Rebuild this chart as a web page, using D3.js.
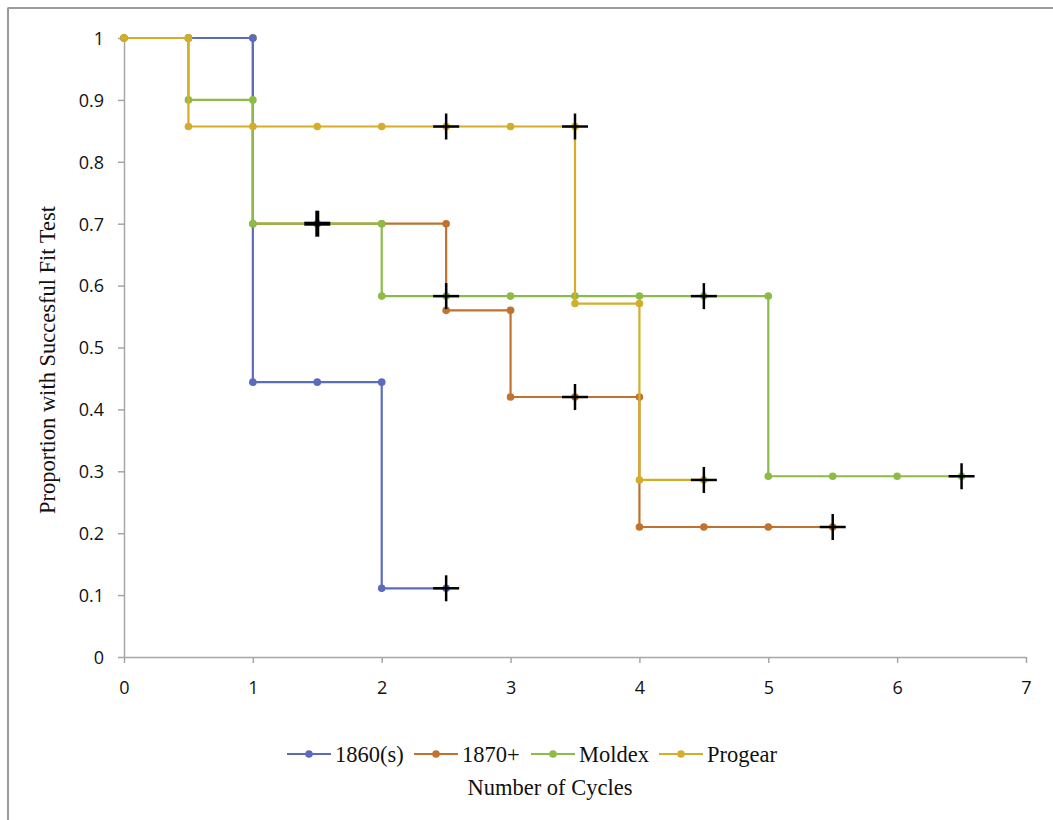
<!DOCTYPE html>
<html><head><meta charset="utf-8">
<script src="https://cdn.jsdelivr.net/npm/d3@7"></script>
<style>body{margin:0;background:#fff}svg{display:block}</style>
</head><body>
<script>
const seriesNames = ["1860(s)", "1870+", "Moldex", "Progear"];
const seriesColors = ["#5b6cbd", "#c0722f", "#8cbb47", "#d4ae2a"];
const s1860 = [[0,1],[0.5,1],[1,1],[1,0.444],[1.5,0.444],[2,0.444],[2,0.111],[2.5,0.111]];
const s1870 = [[0,1],[0.5,1],[1,1],[1,0.7],[1.5,0.7],[2,0.7],[2.5,0.7],[2.5,0.56],[3,0.56],[3,0.42],[3.5,0.42],[4,0.42],[4,0.21],[4.5,0.21],[5,0.21],[5.5,0.21]];
const sMoldex = [[0,1],[0.5,1],[0.5,0.9],[1,0.9],[1,0.7],[1.5,0.7],[2,0.7],[2,0.583],[2.5,0.583],[3,0.583],[3.5,0.583],[4,0.583],[4.5,0.583],[5,0.583],[5,0.292],[5.5,0.292],[6,0.292],[6.5,0.292]];
const sProgear = [[0,1],[0.5,1],[0.5,0.857],[1,0.857],[1.5,0.857],[2,0.857],[2.5,0.857],[3,0.857],[3.5,0.857],[3.5,0.571],[4,0.571],[4,0.286],[4.5,0.286]];
const censored = [[2.5,0.111],[1.5,0.7],[3.5,0.42],[5.5,0.21],[1.5,0.7],[2.5,0.583],[4.5,0.583],[6.5,0.292],[2.5,0.857],[3.5,0.857],[4.5,0.286]];
const xTicks = [0,1,2,3,4,5,6,7];
const yTicks = [0,0.1,0.2,0.3,0.4,0.5,0.6,0.7,0.8,0.9,1];
const allSeries = [s1860, s1870, sMoldex, sProgear];
const drawOrder = [1, 0, 2, 3];

const W = 1053, H = 820;
const svg = d3.select("body").append("svg").attr("width", W).attr("height", H);
svg.append("line").attr("x1",7.5).attr("x2",W).attr("y1",8).attr("y2",8).attr("stroke","#9a9a9a").attr("stroke-width",2);
svg.append("line").attr("x1",8).attr("x2",8).attr("y1",8).attr("y2",H).attr("stroke","#9a9a9a").attr("stroke-width",2);

const x = d3.scaleLinear().domain([0,7]).range([124,1026]);
const y = d3.scaleLinear().domain([0,1]).range([657,38]);
const axisColor = "#a6a6a6";

const gx = svg.append("g").attr("transform",`translate(0,${y(0)})`)
  .call(d3.axisBottom(x).tickValues(xTicks).tickFormat(d3.format("d")).tickSizeInner(6).tickSizeOuter(0).tickPadding(15));
const gy = svg.append("g").attr("transform",`translate(${x(0)},0)`)
  .call(d3.axisLeft(y).tickValues(yTicks).tickFormat(d => d===0||d===1 ? String(d) : d3.format(".1f")(d)).tickSizeInner(6).tickSizeOuter(0).tickPadding(14));
[gx, gy].forEach(g => {
  g.select(".domain").attr("stroke", axisColor).attr("stroke-width", 1.5);
  g.selectAll(".tick line").attr("stroke", axisColor).attr("stroke-width", 1.5);
  g.selectAll(".tick text").attr("fill","#111").style("font-family","'Open Sans', 'Noto Sans', sans-serif").style("font-size","18px");
});
gx.selectAll(".tick text").attr("dy","0.9em");
gy.selectAll(".tick text").attr("dy","0.35em");

const line = d3.line().x(d => x(d[0])).y(d => y(d[1]));
drawOrder.forEach(i => {
  const s = allSeries[i];
  const g = svg.append("g");
  g.append("path").attr("d", line(s)).attr("fill","none").attr("stroke", seriesColors[i]).attr("stroke-width", 2.2);
  g.selectAll("circle").data(s).join("circle")
    .attr("cx", d => x(d[0])).attr("cy", d => y(d[1])).attr("r", 3.8).attr("fill", seriesColors[i]);
});

// censor marks (overlapping marks drawn heavier)
const counts = d3.rollup(censored, v => v.length, d => d[0] + "," + d[1]);
const cg = svg.append("g");
counts.forEach((n, key) => {
  const [vx, vy] = key.split(",").map(Number);
  const cx = x(vx), cy = y(vy), sw = n > 1 ? 4 : 2.5;
  cg.append("line").attr("x1",cx-13).attr("x2",cx+13).attr("y1",cy).attr("y2",cy).attr("stroke","#000").attr("stroke-width",sw);
  cg.append("line").attr("x1",cx).attr("x2",cx).attr("y1",cy-13).attr("y2",cy+13).attr("stroke","#000").attr("stroke-width",sw);
});

// legend
const legendX = [287, 414, 531, 659];
const legendY = 754;
const serif = "'Liberation Serif', 'DejaVu Serif', serif";
seriesNames.forEach((n, i) => {
  const lx = legendX[i];
  svg.append("line").attr("x1", lx).attr("x2", lx+44).attr("y1", legendY).attr("y2", legendY).attr("stroke", seriesColors[i]).attr("stroke-width", 2.2);
  svg.append("circle").attr("cx", lx+22).attr("cy", legendY).attr("r", 3.8).attr("fill", seriesColors[i]);
  svg.append("text").attr("x", lx+48).attr("y", legendY).attr("dy","0.35em").text(n)
    .style("font-family", serif).style("font-size","22.5px").attr("fill","#111");
});

svg.append("text").attr("x", 550).attr("y", 787).attr("dy","0.35em").attr("text-anchor","middle")
  .text("Number of Cycles").style("font-family", serif).style("font-size","22.5px").attr("fill","#111");
svg.append("text").attr("transform","translate(47,360) rotate(-90)").attr("dy","0.35em").attr("text-anchor","middle")
  .text("Proportion with Succesful Fit Test").style("font-family", serif).style("font-size","22.5px").attr("fill","#111");
</script>
</body></html>
